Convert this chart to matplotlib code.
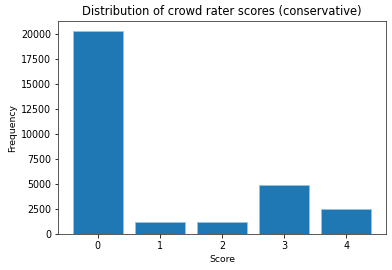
import matplotlib
matplotlib.use('Agg')
import matplotlib.pyplot as plt

scores = [0, 1, 2, 3, 4]
counts = [20300, 1200, 1190, 4910, 2540]

fig = plt.figure(figsize=(392/72, 270/72), dpi=72)
ax = fig.add_axes([0.148, 0.133, 0.837, 0.789])
ax.bar(scores, counts, width=0.8, color='#1f77b4', edgecolor='#9cc3e0', linewidth=0.8)
ax.set_title('Distribution of crowd rater scores (conservative)', fontsize=11.5)
ax.set_xlabel('Score', fontsize=9.3)
ax.set_ylabel('Frequency', fontsize=9.3)
ax.tick_params(labelsize=9.5)
for s in ax.spines.values():
    s.set_color('#333333')
fig.savefig('out.png', dpi=72)
